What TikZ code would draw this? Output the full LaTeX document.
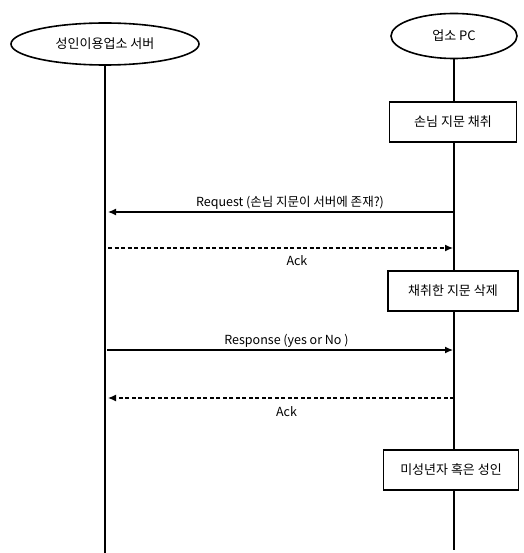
\documentclass[tikz,border=0pt]{standalone}
\usepackage{fontspec}
\setmainfont{Noto Sans CJK KR}
\usetikzlibrary{arrows.meta,positioning,shapes.geometric}

\begin{document}
\begin{tikzpicture}[x=1pt, y=-1pt,
    actor/.style={ellipse, draw, line width=1.6pt, inner sep=0pt,
                  font=\fontsize{13}{15}\selectfont},
    act/.style={rectangle, draw, line width=1.1pt, fill=white,
                minimum height=40pt, font=\fontsize{13}{15}\selectfont},
    life/.style={line width=1.6pt},
    msg/.style={line width=1.2pt, -{Latex[length=8pt,width=7pt]}},
    reply/.style={msg, dashed, dash pattern=on 4pt off 2.5pt},
    lbl/.style={font=\fontsize{12.5}{14}\selectfont, inner sep=2pt}
  ]
  \useasboundingbox (0,0) rectangle (523,553);

  % participants
  \node[actor, minimum width=188pt, minimum height=42pt] (srv) at (105,44) {성인이용업소 서버};
  \node[actor, minimum width=126pt, minimum height=45pt] (pc) at (454,36) {업소 PC};

  % activities on the PC side
  \node[act, minimum width=127pt] (capture) at (453,122) {손님 지문 채취};
  \node[act, minimum width=130pt] (delete)  at (453,291) {채취한 지문 삭제};
  \node[act, minimum width=135pt] (result)  at (451,470) {미성년자 혹은 성인};

  % lifelines
  \coordinate (srvEnd) at (srv.south |- 0,553);
  \coordinate (pcEnd)  at (pc.south |- 0,550);
  \draw[life] (srv.south) -- (srvEnd);
  \draw[life] (pc.south) -- (pc.south |- capture.north);
  \draw[life] (pc.south |- capture.south) -- (pc.south |- delete.north);
  \draw[life] (pc.south |- delete.south) -- (pc.south |- result.north);
  \draw[life] (pc.south |- result.south) -- (pcEnd);

  % messages
  \def\yReq{212} \def\yAckA{248} \def\yResp{350} \def\yAckB{398}
  \coordinate (reqR)  at (pc.south |- 0,\yReq);
  \coordinate (reqL)  at (srv.south |- 0,\yReq);
  \coordinate (ackAL) at (srv.south |- 0,\yAckA);
  \coordinate (ackAR) at (pc.south |- 0,\yAckA);
  \coordinate (respL) at (srv.south |- 0,\yResp);
  \coordinate (respR) at (pc.south |- 0,\yResp);
  \coordinate (ackBR) at (pc.south |- 0,\yAckB);
  \coordinate (ackBL) at (srv.south |- 0,\yAckB);

  \draw[msg, shorten >=3pt] (reqR) -- node[lbl, above, pos=0.47] {Request (손님 지문이 서버에 존재?)} (reqL);
  \draw[reply, shorten <=3pt, shorten >=1pt] (ackAL) -- node[lbl, below=5pt, pos=0.55] {Ack} (ackAR);
  \draw[msg, shorten <=2pt, shorten >=1pt] (respL) -- node[lbl, above, pos=0.52] {Response (yes or No )} (respR);
  \draw[reply, shorten >=3pt] (ackBR) -- node[lbl, below=6pt, pos=0.48] {Ack} (ackBL);
\end{tikzpicture}
\end{document}
